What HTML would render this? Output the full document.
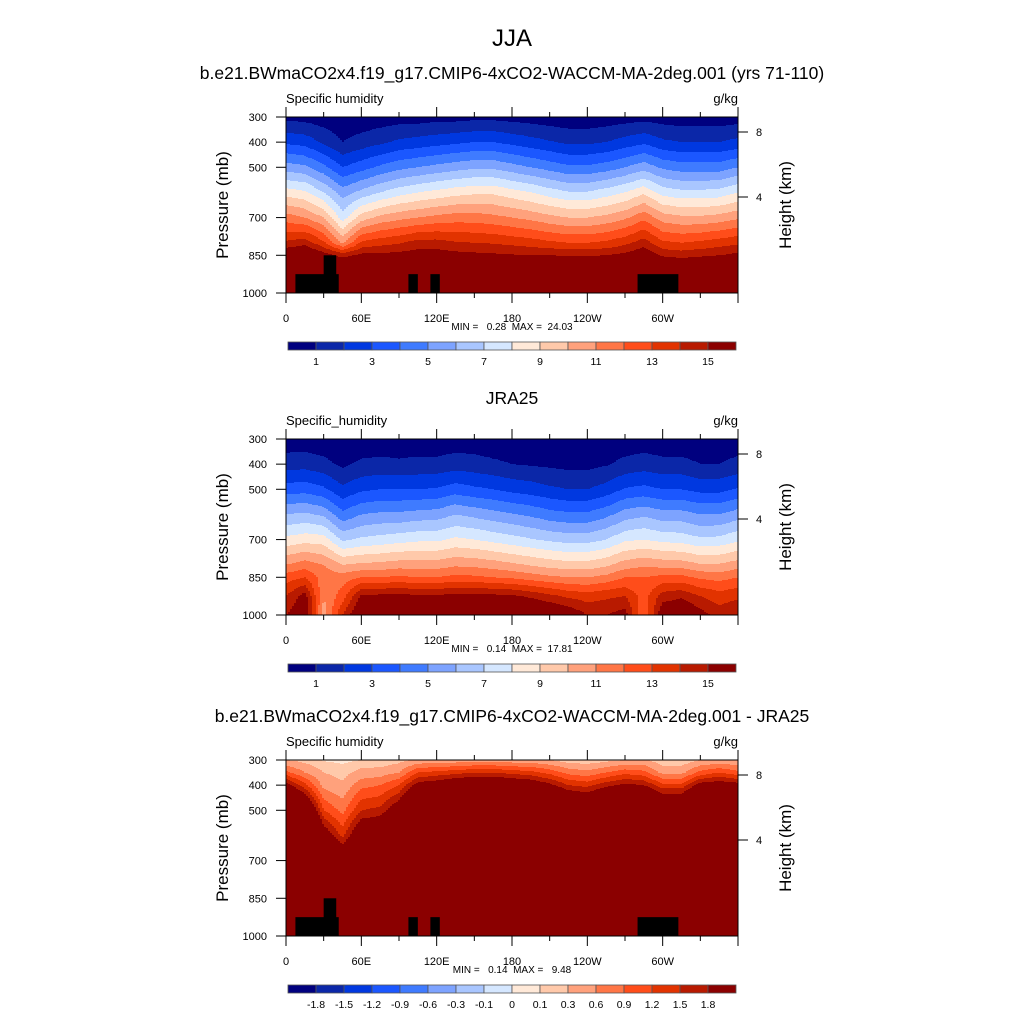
<!DOCTYPE html>
<html><head><meta charset="utf-8">
<style>
html,body{margin:0;padding:0;background:#fff;}
svg{display:block;font-family:"Liberation Sans",sans-serif;}
text{white-space:pre;}
</style></head>
<body>
<svg id="chart" width="1024" height="1024" viewBox="0 0 1024 1024">
<text x="512" y="46" font-size="24" text-anchor="middle">JJA</text>
<text x="512" y="79" font-size="17.5" text-anchor="middle">b.e21.BWmaCO2x4.f19_g17.CMIP6-4xCO2-WACCM-MA-2deg.001 (yrs 71-110)</text>
<text x="512" y="404" font-size="17.5" text-anchor="middle">JRA25</text>
<text x="512" y="722" font-size="17.5" text-anchor="middle">b.e21.BWmaCO2x4.f19_g17.CMIP6-4xCO2-WACCM-MA-2deg.001 - JRA25</text>
</svg>
<script>
// ---- data ----
const lons = [0,15,30,45,60,75,90,105,120,135,150,165,180,195,210,225,240,255,270,285,300,315,330,345,360];
const presQ = [300,400,500,600,700,800,850,925,1000];
const presD = [300,350,400,500,600,700,1000];
const modelQ = [
[0.7,2.8,5.5,8.5,11.5,14.2,16.2,18,19],
[0.6,2.6,5.2,8.2,11,14.6,16.6,18,19],
[0.4,1.8,4.3,7,10,13.2,15.6,18,19],
[0.3,1.0,3.0,5.5,7.5,10.8,14.6,18,19],
[0.3,1.4,3.6,6.3,9.5,13.2,15.3,18,19],
[0.4,1.8,4.2,7,10.3,13.6,15.3,18,19],
[0.5,2.2,4.7,7.6,10.7,13.9,15.4,18,19],
[0.5,2.4,5,8,11,14.4,15.6,18,19],
[0.6,2.6,5.3,8.3,11.3,14.4,15.6,18,19],
[0.6,2.8,5.6,8.6,11.5,14.1,15.4,18,19],
[0.7,3.0,5.8,8.8,11.5,14.0,15.3,18,19],
[0.7,3.0,5.8,8.8,11.3,13.9,15.2,18,19],
[0.6,2.7,5.4,8.4,11,13.7,15.1,17.5,19],
[0.5,2.4,5,8,10.7,13.5,15.0,17.5,19],
[0.4,2.1,4.6,7.5,10.3,13.2,15.0,17.5,19],
[0.3,1.8,4.2,7.1,10,13.0,14.9,17.5,19],
[0.3,1.8,4.2,7.1,10,13.0,14.9,17.5,19],
[0.4,2.0,4.5,7.5,10.3,13.2,15.0,17.5,19],
[0.5,2.4,5,8,10.8,13.7,15.3,17.5,19],
[0.6,2.8,5.6,8.8,11.7,14.5,15.9,18,19],
[0.5,2.2,4.8,7.6,10.5,13.2,14.8,18,19],
[0.4,2.0,4.5,7.3,10.2,13.0,14.6,17.5,19],
[0.4,2.0,4.5,7.3,10.2,13.2,14.8,17.5,19],
[0.4,2.0,4.5,7.4,10.4,13.5,15.0,17.5,19],
[0.5,2.3,5,8,10.8,13.8,15.3,18,19]];
const obsQ = [
[0.4,1.5,3.5,6,8.3,11,12.5,14,15],
[0.4,1.6,3.6,6.2,8.6,11.5,13,15.5,16],
[0.3,1.3,3.2,5.8,8.5,11,11.5,11,10.5],
[0.2,0.8,2.2,4.3,6.8,10,11.5,12.5,14],
[0.3,1.2,2.8,5.0,7.2,10.2,12,15.2,16.5],
[0.3,1.3,3,5.2,7.4,10.3,12,15.3,17],
[0.3,1.2,3,5.2,7.6,10.5,12.2,15.4,17.5],
[0.3,1.3,3,5.4,7.8,10.5,12,15.2,17],
[0.3,1.3,3.1,5.5,7.8,10.5,12,15.2,17],
[0.4,1.5,3.5,6.0,8.2,10.8,12.3,15.4,17.5],
[0.4,1.4,3.2,5.7,8,10.7,12.2,15.4,17.5],
[0.3,1.2,3,5.4,7.7,10.5,12,15.3,17.5],
[0.3,1.0,2.7,5.1,7.4,10.2,11.8,15.2,17.5],
[0.2,0.9,2.5,4.8,7.1,9.9,11.5,14.8,17],
[0.2,0.8,2.2,4.4,6.8,9.6,11.2,14.3,16.5],
[0.2,0.7,2,4.2,6.6,9.4,11,13.8,16],
[0.2,0.7,2,4.2,6.6,9.4,11,13.5,15],
[0.2,0.9,2.4,4.7,7,9.8,11.3,13.8,15],
[0.3,1.3,3.1,5.5,7.8,10.5,12,14,15.5],
[0.4,1.5,3.3,5.8,8,10.8,12,12.5,12],
[0.3,1.3,3,5.4,7.7,10.6,12.3,14.5,16],
[0.3,1.3,3,5.4,7.6,10.5,12.3,14.8,16.5],
[0.3,1.0,2.7,5,7.2,10.1,11.8,14,15.5],
[0.3,1.0,2.7,5,7.3,10.1,11.6,13.5,14.5],
[0.4,1.3,3.1,5.5,7.8,10.5,12,13.8,15]];
const diffQ = [
[0.3,1.0,2.0,3.5,4.5,5.5,8],
[0.2,0.6,1.3,2.8,4,5,7],
[0.08,0.3,0.5,1.2,2.2,3.5,6],
[0.05,0.2,0.35,0.8,1.4,2.5,6],
[0.1,0.4,0.8,1.5,2.4,3.5,6],
[0.1,0.45,0.9,1.6,2.5,3.5,6],
[0.2,0.6,1.2,2.2,3,4,7],
[0.35,1.2,2,3.5,4.5,5.5,7],
[0.4,1.3,2.1,3.5,4.5,5.5,7],
[0.4,1.4,2.3,4,5,6,8],
[0.45,1.5,2.4,4,5,6,8],
[0.45,1.5,2.4,4,5,6,8],
[0.4,1.4,2.3,4,5,6,8],
[0.4,1.3,2.2,4,5,6,8],
[0.3,1.1,1.9,3.5,4.5,5.5,8],
[0.15,0.8,1.5,3,4,5,8],
[0.12,0.7,1.4,2.8,4,5,8],
[0.2,0.9,1.7,3.2,4.3,5.3,8],
[0.3,1.1,1.9,3.5,4.5,5.5,8],
[0.35,1.0,1.8,3.5,4.5,5.5,8],
[0.1,0.5,1.3,2.8,4,5,8],
[0.1,0.5,1.3,2.8,4,5,8],
[0.3,1.0,2,3.5,4.5,5.5,8],
[0.35,1.2,2.1,3.5,4.5,5.5,8],
[0.3,1.0,2.0,3.5,4.5,5.5,8]];
const levelsQ = [1,2,3,4,5,6,7,8,9,10,11,12,13,14,15];
const levelsD = [-1.8,-1.5,-1.2,-0.9,-0.6,-0.3,-0.1,0,0.1,0.3,0.6,0.9,1.2,1.5,1.8];
const labelsQ = ["1","3","5","7","9","11","13","15"];
const labelsD = ["-1.8","-1.5","-1.2","-0.9","-0.6","-0.3","-0.1","0","0.1","0.3","0.6","0.9","1.2","1.5","1.8"];
const xTickLons = [0,60,120,180,240,300];
const xTickLabels = ["0","60E","120E","180","120W","60W"];
const yTickPres = [300,400,500,700,850,1000];
const heightTicks = [[8,"8"],[4,"4"]];
const topoLon0 = [7.5,30,97.5,115,280];
const topoLon1 = [42,40,105,122.5,312.5];
const topoPres = [925,850,925,925,925];
const colors = ["#00007f","#0b27a8","#0038e0","#1b57ff","#3f7bff","#7da3ff","#a9c6ff","#d5e7ff","#ffe9d8","#ffc9aa","#ffa17c","#ff7646","#ff4d1a","#e23300","#b81a00","#8b0000"];
// ---- drawing ----
const NS="http://www.w3.org/2000/svg";
const svg=document.getElementById('chart');
const X0=286,W=452,H=176;
function el(t,a,p){const e=document.createElementNS(NS,t);for(const k in a)e.setAttribute(k,a[k]);(p||svg).appendChild(e);return e;}
function xOf(lon){return X0+lon/360*W;}
function interp(grid,pres,lon,p){
  let i=Math.min(lons.length-2,Math.floor(lon/15));let fx=(lon-lons[i])/15;
  let j=0;while(j<pres.length-2&&p>pres[j+1])j++;let fy=(p-pres[j])/(pres[j+1]-pres[j]);
  fy=Math.max(0,Math.min(1,fy));
  const a=grid[i][j]*(1-fx)+grid[i+1][j]*fx, b=grid[i][j+1]*(1-fx)+grid[i+1][j+1]*fx;
  return a*(1-fy)+b*fy;}
function cls(v,lv){let k=0;while(k<lv.length&&v>=lv[k])k++;return k;}
function panel(n,top,grid,pres,lv,labels,minmax,topo,varname){
  const g=el('g',{});
  
  
  const yOf=p=>top+(p-300)/700*H;
  const fill=el('g',{},g);
  
  
  const step=2;
  for(let x=0;x<W;x+=step){
    const lon=(x+step/2)/W*360;
    let start=0,cur=-1;
    for(let y=0;y<=H;y++){
      let c=-2;
      if(y<H){const p=300+(y+0.5)/H*700;c=cls(interp(grid,pres,lon,p),lv);}
      if(c!==cur){
        if(cur>=0){const r=el('rect',{x:X0+x,y:top+start,width:step+0.5,height:y-start+0.5,fill:colors[cur]},fill);
          
          }
        cur=c;start=y;}
    }
  }
  if(topo){for(let k=0;k<topoLon0.length;k++){
    const r=el('rect',{x:xOf(topoLon0[k]),y:yOf(topoPres[k]),width:xOf(topoLon1[k])-xOf(topoLon0[k]),height:top+H-yOf(topoPres[k]),fill:'#000'},g);
    
    }}
  const fr=el('rect',{x:X0,y:top,width:W,height:H,fill:'none',stroke:'#000','stroke-width':1},g);
  
  
  for(let lon=0;lon<=360;lon+=30){const x=xOf(lon),maj=lon%60===0;
    el('line',{x1:x,x2:x,y1:top+H,y2:top+H+(maj?10:5),stroke:'#000'},g);
    el('line',{x1:x,x2:x,y1:top,y2:top-(maj?10:5),stroke:'#000'},g);}
  xTickLons.forEach((l,i)=>{const t=el('text',{x:xOf(l),y:top+H+29,'font-size':11,'text-anchor':'middle'},g);t.textContent=xTickLabels[i];
    
    });
  yTickPres.forEach(p=>{const y=yOf(p);el('line',{x1:X0-10,x2:X0,y1:y,y2:y,stroke:'#000'},g);
    const t=el('text',{x:X0-19,y:y+4,'font-size':11,'text-anchor':'end'},g);t.textContent=p;
    
    });
  heightTicks.forEach(h=>{const y=top+(h[0]===8?15:80);el('line',{x1:X0+W,x2:X0+W+10,y1:y,y2:y,stroke:'#000'},g);
    const t=el('text',{x:X0+W+18,y:y+4,'font-size':11},g);t.textContent=h[1];
    
    });
  const mid=top+H/2;
  let t=el('text',{x:0,y:0,'font-size':17,'text-anchor':'middle',transform:`translate(228,${mid}) rotate(-90)`},g);t.textContent='Pressure (mb)';
  
  
  t=el('text',{x:0,y:0,'font-size':17,'text-anchor':'middle',transform:`translate(791,${mid}) rotate(-90)`},g);t.textContent='Height (km)';
  
  
  t=el('text',{x:X0,y:top-14,'font-size':13},g);t.textContent=varname;
  
  
  t=el('text',{x:X0+W,y:top-14,'font-size':13,'text-anchor':'end'},g);t.textContent='g/kg';
  
  
  t=el('text',{x:512,y:top+H+37,'font-size':10,'text-anchor':'middle'},g);t.textContent=minmax;
  
  
  const cb=el('g',{},g);
  
  
  const cy=top+H+49,bw=28;
  colors.forEach((c,i)=>{const r=el('rect',{x:288+i*bw,y:cy,width:bw,height:8,fill:c,stroke:'#555','stroke-width':0.8},cb);
    
    });
  const every=labels.length===lv.length?1:2;
  labels.forEach((s,i)=>{const t2=el('text',{x:288+bw*(1+i*every),y:cy+23,'font-size':10.5,'text-anchor':'middle'},cb);t2.textContent=s;
    
    });
}
panel(1,117,modelQ,presQ,levelsQ,labelsQ,'MIN =   0.28  MAX =  24.03',true,'Specific humidity');
panel(2,439,obsQ,presQ,levelsQ,labelsQ,'MIN =   0.14  MAX =  17.81',false,'Specific_humidity');
panel(3,760,diffQ,presD,levelsD,labelsD,'MIN =   0.14  MAX =   9.48',true,'Specific humidity');
</script>
</body></html>
